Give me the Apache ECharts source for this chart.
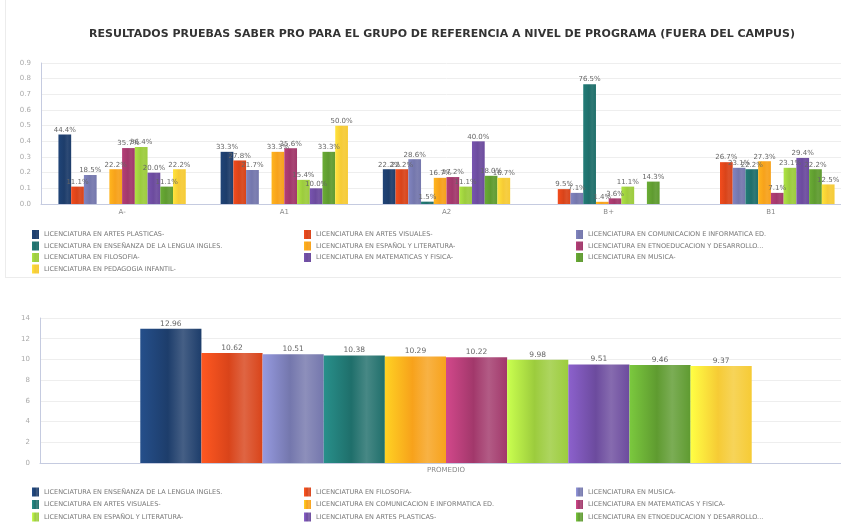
<!DOCTYPE html>
<html lang="es">
<head>
    <meta charset="utf-8">
    <title>Resultados Saber Pro</title>
    <script src="https://cdn.jsdelivr.net/npm/echarts@6.0.0/dist/echarts.min.js"></script>
    <style>* {
        margin: 0;
        padding: 0;
    }
    body { background: #fff; width: 841px; height: 523px; overflow: hidden; position: relative; }
    /* el gráfico original está recortado por la derecha */
    #top { position: absolute; left: 0; top: 0; width: 856px; height: 290px; }
    #bottom { position: absolute; left: 0; top: 290px; width: 856px; height: 233px; }
    #frame { position: absolute; left: 5px; top: 0; width: 840px; height: 277px; border-left: 1px solid #ececec; border-bottom: 1px solid #ececec; }
    </style>
</head>
<body>
    <div id="frame"></div>
    <div id="top"></div>
    <div id="bottom"></div>
    <script>
      // niveles de desempeño
      var levels = ['A-', 'A1', 'A2', 'B+', 'B1'];

      var programs = [
          'LICENCIATURA EN ARTES PLASTICAS-',
          'LICENCIATURA EN ARTES VISUALES-',
          'LICENCIATURA EN COMUNICACION E INFORMATICA ED.',
          'LICENCIATURA EN ENSEÑANZA DE LA LENGUA INGLES.',
          'LICENCIATURA EN ESPAÑOL Y LITERATURA-',
          'LICENCIATURA EN ETNOEDUCACION Y DESARROLLO...',
          'LICENCIATURA EN FILOSOFIA-',
          'LICENCIATURA EN MATEMATICAS Y FISICA-',
          'LICENCIATURA EN MUSICA-',
          'LICENCIATURA EN PEDAGOGIA INFANTIL-'
      ];

      // proporción por nivel (A-, A1, A2, B+, B1)
      var artesPlasticas = [0.444, 0.333, 0.222, 0, 0];
      var artesVisuales = [0.111, 0.278, 0.222, 0.095, 0.267];
      var comunicacion = [0.185, 0.217, 0.286, 0.071, 0.231];
      var ingles = [0, 0, 0.015, 0.765, 0.222];
      var espanol = [0.222, 0.333, 0.167, 0.014, 0.273];
      var etnoeducacion = [0.357, 0.356, 0.172, 0.036, 0.071];
      var filosofia = [0.364, 0.154, 0.111, 0.111, 0.231];
      var matematicas = [0.2, 0.1, 0.4, 0, 0.294];
      var musica = [0.111, 0.333, 0.18, 0.143, 0.222];
      var pedagogia = [0.222, 0.5, 0.167, 0, 0.125];

      var topValues = [artesPlasticas, artesVisuales, comunicacion, ingles, espanol,
                       etnoeducacion, filosofia, matematicas, musica, pedagogia];

      // promedio (gráfico inferior), en orden de las barras
      var promedioPrograms = [
          'LICENCIATURA EN ENSEÑANZA DE LA LENGUA INGLES.',
          'LICENCIATURA EN FILOSOFIA-',
          'LICENCIATURA EN MUSICA-',
          'LICENCIATURA EN ARTES VISUALES-',
          'LICENCIATURA EN COMUNICACION E INFORMATICA ED.',
          'LICENCIATURA EN MATEMATICAS Y FISICA-',
          'LICENCIATURA EN ESPAÑOL Y LITERATURA-',
          'LICENCIATURA EN ARTES PLASTICAS-',
          'LICENCIATURA EN ETNOEDUCACION Y DESARROLLO...',
          'LICENCIATURA EN PEDAGOGIA INFANTIL-'
      ];
      var promedioValues = [12.96, 10.62, 10.51, 10.38, 10.29, 10.22, 9.98, 9.51, 9.46, 9.37];

      var colors = ['#1d3d6b', '#d9441a', '#7477ad', '#1f6f6b', '#f7a21b',
                    '#a2386b', '#9ccc3d', '#6c4b9e', '#5f9b30', '#f6cb35'];

      function shade(c, strong) {
          var k = strong ? 0.3 : 0.12;
          return {
              type: 'linear', x: 0, y: 0, x2: 1, y2: 0,
              colorStops: [
                  { offset: 0, color: echarts.color.lift(c, -k) },
                  { offset: 0.45, color: c },
                  { offset: 0.7, color: echarts.color.lift(c, k * 0.6) },
                  { offset: 1, color: c }
              ]
          };
      }

      var font = 'DejaVu Sans';

      function legendOpt(top, gap, names) {
          var o = {
              left: 27, top: top, width: 830,
              itemWidth: 7, itemHeight: 9, itemGap: gap,
              icon: 'rect',
              formatter: '{t|{name}}',
              textStyle: {
                  rich: { t: { fontSize: 6.5, color: '#777', width: 272 - 12 - gap, height: 9, lineHeight: 9, fontFamily: font } }
              }
          };
          if (names) o.data = names;
          return o;
      }

      var topChart = echarts.init(document.getElementById('top'));
      topChart.setOption({
          animation: false,
          color: colors,
          textStyle: { fontFamily: font },
          title: {
              text: 'RESULTADOS PRUEBAS SABER PRO PARA EL GRUPO DE REFERENCIA A NIVEL DE PROGRAMA (FUERA DEL CAMPUS)',
              left: 437, textAlign: 'center', top: 24,
              textStyle: { fontSize: 11, fontWeight: 'bold', color: '#333', fontFamily: font }
          },
          legend: legendOpt(225, 2.5),
          grid: { left: 41, right: 4, top: 63, height: 141 },
          xAxis: {
              type: 'category', data: levels,
              axisLine: { lineStyle: { color: '#c5cbe0' } },
              axisTick: { show: false },
              axisLabel: { fontSize: 7, color: '#888', margin: 5 }
          },
          yAxis: {
              type: 'value', min: 0, max: 0.9, interval: 0.1,
              axisLine: { show: true, lineStyle: { color: '#c5cbe0' } },
              axisLabel: { fontSize: 7, color: '#aaa', margin: 10, formatter: function (v) { return v.toFixed(1); } },
              splitLine: { lineStyle: { color: '#eeeeee' } }
          },
          series: programs.map(function (name, i) {
              return {
                  type: 'bar', name: name, data: topValues[i],
                  barGap: '0%', barCategoryGap: '21.5%',
                  itemStyle: { color: shade(colors[i], false) },
                  label: {
                      show: true, position: 'top', distance: 1,
                      fontSize: 7, color: '#666',
                      formatter: function (p) { return p.value ? (p.value * 100).toFixed(1) + '%' : ''; }
                  }
              };
          })
      });

      var bottomChart = echarts.init(document.getElementById('bottom'));
      bottomChart.setOption({
          animation: false,
          color: colors,
          textStyle: { fontFamily: font },
          legend: legendOpt(192.5, 3.5, promedioPrograms.slice(0, 9)),
          grid: { left: 40, right: 4, top: 28, height: 145 },
          xAxis: {
              type: 'category', data: ['PROMEDIO'],
              axisLine: { lineStyle: { color: '#c5cbe0' } },
              axisTick: { show: false },
              axisLabel: { fontSize: 7, color: '#888', margin: 4 }
          },
          yAxis: {
              type: 'value', min: 0, max: 14, interval: 2,
              axisLine: { show: true, lineStyle: { color: '#c5cbe0' } },
              axisLabel: { fontSize: 7, color: '#aaa', margin: 10 },
              splitLine: { lineStyle: { color: '#eeeeee' } }
          },
          series: promedioPrograms.map(function (name, i) {
              return {
                  type: 'bar', name: name, data: [promedioValues[i]],
                  barGap: '0%', barCategoryGap: '24.7%',
                  itemStyle: { color: shade(colors[i], true) },
                  label: {
                      show: true, position: 'top', distance: 1,
                      fontSize: 7.5, color: '#666',
                      formatter: function (p) { return p.value.toFixed(2); }
                  }
              };
          })
      });
  </script>
</body>
</html>
